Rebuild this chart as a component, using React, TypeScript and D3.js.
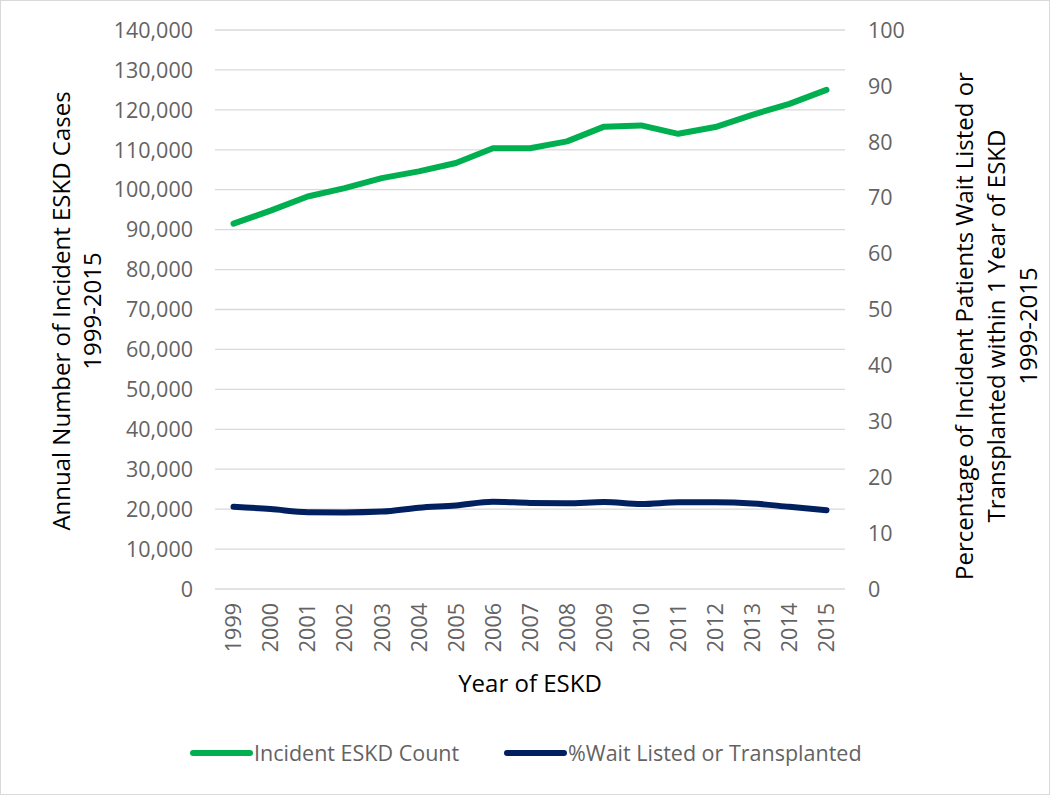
import React, { useEffect, useRef } from "react";
import * as d3 from "d3";

const years = ["1999","2000","2001","2002","2003","2004","2005","2006","2007","2008","2009","2010","2011","2012","2013","2014","2015"];
const incidentCount = [91500, 94750, 98300, 100400, 102900, 104600, 106700, 110400, 110400, 112100, 115800, 116100, 114000, 115700, 118750, 121500, 125000];
const pctWaitListed = [14.7, 14.3, 13.75, 13.7, 13.85, 14.55, 14.95, 15.6, 15.4, 15.35, 15.55, 15.2, 15.5, 15.5, 15.3, 14.7, 14.1];
const leftTicks = [0, 10000, 20000, 30000, 40000, 50000, 60000, 70000, 80000, 90000, 100000, 110000, 120000, 130000, 140000];
const rightTicks = [0, 10, 20, 30, 40, 50, 60, 70, 80, 90, 100];
const seriesNames = ["Incident ESKD Count", "%Wait Listed or Transplanted"];
const seriesColors = ["#00b050", "#002060"];

const W = 1050, H = 795;
const FONT = "'Open Sans', sans-serif";

export default function App() {
  const ref = useRef<SVGSVGElement>(null);
  useEffect(() => {
    const svg = d3.select(ref.current);
    svg.selectAll("*").remove();
    const left = 215, right = 845, top = 30, bottom = 589;

    svg.append("rect").attr("x", 0.5).attr("y", 0.5).attr("width", W - 1).attr("height", H - 1)
      .attr("fill", "#fff").attr("stroke", "#d9d9d9");

    const x = d3.scaleBand<string>().domain(years).range([left, right]);
    const yL = d3.scaleLinear().domain([0, 140000]).range([bottom, top]);
    const yR = d3.scaleLinear().domain([0, 100]).range([bottom, top]);
    const cx = (d: string) => (x(d) as number) + x.bandwidth() / 2;

    // gridlines
    svg.append("g").selectAll("line").data(leftTicks).join("line")
      .attr("x1", left).attr("x2", right)
      .attr("y1", d => yL(d)).attr("y2", d => yL(d))
      .attr("stroke", "#d9d9d9").attr("stroke-width", 1.3);

    // left tick labels
    svg.append("g").selectAll("text").data(leftTicks).join("text")
      .attr("x", 193).attr("y", d => yL(d)).attr("dy", "0.36em")
      .attr("text-anchor", "end").attr("font-family", FONT).attr("font-size", 21.5)
      .attr("fill", "#636363").text(d => d3.format(",")(d));

    // right tick labels
    svg.append("g").selectAll("text").data(rightTicks).join("text")
      .attr("x", 868).attr("y", d => yR(d)).attr("dy", "0.36em")
      .attr("text-anchor", "start").attr("font-family", FONT).attr("font-size", 21.5)
      .attr("fill", "#636363").text(d => String(d));

    // x tick labels
    svg.append("g").selectAll("text").data(years).join("text")
      .attr("transform", d => `translate(${cx(d)},${603}) rotate(-90)`)
      .attr("dy", "0.36em")
      .attr("text-anchor", "end").attr("font-family", FONT).attr("font-size", 21.5)
      .attr("fill", "#636363").text(d => d);

    // axis titles
    svg.append("text").attr("x", (left + right) / 2).attr("y", 692)
      .attr("text-anchor", "middle").attr("font-family", FONT).attr("font-size", 24)
      .attr("fill", "#000").text("Year of ESKD");

    const lt = svg.append("text").attr("transform", "translate(0,311) rotate(-90)")
      .attr("text-anchor", "middle").attr("font-family", FONT).attr("font-size", 24).attr("fill", "#000");
    lt.append("tspan").attr("x", 0).attr("y", 70).text("Annual Number of Incident ESKD Cases");
    lt.append("tspan").attr("x", 0).attr("y", 101).text("1999-2015");

    const rt = svg.append("text").attr("transform", "translate(0,326) rotate(-90)")
      .attr("text-anchor", "middle").attr("font-family", FONT).attr("font-size", 24).attr("fill", "#000");
    rt.append("tspan").attr("x", 0).attr("y", 973).text("Percentage of Incident Patients Wait Listed or");
    rt.append("tspan").attr("x", 0).attr("y", 1005).text("Transplanted within 1 Year of ESKD");
    rt.append("tspan").attr("x", 0).attr("y", 1037).text("1999-2015");

    // lines
    const lineL = d3.line<number>().x((_, i) => cx(years[i])).y(d => yL(d));
    const lineR = d3.line<number>().x((_, i) => cx(years[i])).y(d => yR(d)).curve(d3.curveMonotoneX);
    svg.append("path").attr("d", lineR(pctWaitListed) as string).attr("fill", "none")
      .attr("stroke", seriesColors[1]).attr("stroke-width", 6).attr("stroke-linecap", "round").attr("stroke-linejoin", "round");
    svg.append("path").attr("d", lineL(incidentCount) as string).attr("fill", "none")
      .attr("stroke", seriesColors[0]).attr("stroke-width", 6).attr("stroke-linecap", "round").attr("stroke-linejoin", "round");

    // legend
    const legendX = [193, 507];
    seriesNames.forEach((name, i) => {
      const g = svg.append("g").attr("transform", `translate(${legendX[i]},753)`);
      g.append("line").attr("x1", 0).attr("x2", 57).attr("y1", 0).attr("y2", 0)
        .attr("stroke", seriesColors[i]).attr("stroke-width", 6).attr("stroke-linecap", "round");
      g.append("text").attr("x", 61).attr("y", 0).attr("dy", "0.36em")
        .attr("font-family", FONT).attr("font-size", 21.5).attr("fill", "#636363").text(name);
    });
  }, []);
  return (
    <div style={{ position: "absolute", left: 0, top: 0 }}>
      <svg ref={ref} width={W} height={H} style={{ display: "block" }} />
    </div>
  );
}
